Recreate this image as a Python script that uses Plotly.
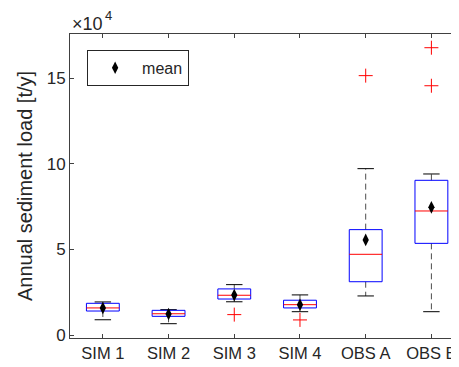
import plotly.graph_objects as go

categories = ["SIM 1", "SIM 2", "SIM 3", "SIM 4", "OBS A", "OBS B"]
# values in t/y
q1 = [14000, 10900, 21000, 15800, 31100, 53500]
median = [15800, 12400, 23200, 17700, 47100, 72400]
q3 = [18500, 14400, 26900, 20300, 61500, 90300]
lower_whisker = [8900, 6600, 19400, 13600, 22800, 13600]
upper_whisker = [19300, 14800, 29400, 23400, 97100, 94000]
means = [15800, 12300, 23300, 17700, 55500, 74500]
outlier_x = ["SIM 3", "SIM 4", "OBS A", "OBS B", "OBS B"]
outlier_y = [11900, 8800, 151400, 167700, 145500]

y_ticks = [0, 50000, 100000, 150000]
y_tick_labels = ["0", "5", "10", "15"]

box_half = 0.25
cap_half = 0.125

fig = go.Figure()
pos = {c: i + 1 for i, c in enumerate(categories)}

for i, c in enumerate(categories):
    x0 = pos[c]
    # whiskers (dashed)
    fig.add_trace(go.Scatter(
        x=[x0, x0, None, x0, x0],
        y=[q3[i], upper_whisker[i], None, q1[i], lower_whisker[i]],
        mode="lines", line=dict(color="#4d4d4d", width=1, dash="6px,4px"),
        showlegend=False, hoverinfo="skip"))
    # caps
    fig.add_trace(go.Scatter(
        x=[x0 - cap_half, x0 + cap_half, None, x0 - cap_half, x0 + cap_half],
        y=[upper_whisker[i], upper_whisker[i], None, lower_whisker[i], lower_whisker[i]],
        mode="lines", line=dict(color="#000000", width=1),
        showlegend=False, hoverinfo="skip"))
    # box
    fig.add_trace(go.Scatter(
        x=[x0 - box_half, x0 + box_half, x0 + box_half, x0 - box_half, x0 - box_half],
        y=[q1[i], q1[i], q3[i], q3[i], q1[i]],
        mode="lines", line=dict(color="#0000ff", width=1),
        showlegend=False, hoverinfo="skip"))
    # median
    fig.add_trace(go.Scatter(
        x=[x0 - box_half, x0 + box_half],
        y=[median[i], median[i]],
        mode="lines", line=dict(color="#ff0000", width=1),
        showlegend=False, hoverinfo="skip"))

fig.add_trace(go.Scatter(
    x=[pos[c] for c in outlier_x], y=outlier_y, mode="markers",
    marker=dict(symbol="cross-thin", size=10, line=dict(color="#ff0000", width=1)),
    showlegend=False))

fig.add_trace(go.Scatter(
    x=[pos[c] for c in categories], y=means, mode="markers",
    marker=dict(symbol="diamond-tall", size=9, color="#000000"),
    name="mean", showlegend=True))

fig.update_layout(
    width=451, height=359,
    margin=dict(l=62, r=0, t=26, b=29, pad=0),
    paper_bgcolor="white", plot_bgcolor="white",
    font=dict(family="Liberation Sans, Arial, sans-serif", size=17, color="#262626"),
    showlegend=True,
    legend=dict(x=0.044, y=0.948, xanchor="left", yanchor="top",
                bordercolor="#262626", borderwidth=1, bgcolor="white",
                font=dict(size=16), itemwidth=44, entrywidth=80),
    xaxis=dict(range=[0.5, 6.42], tickvals=[1, 2, 3, 4, 5, 6], ticktext=categories,
               tickfont=dict(size=16.5), ticklabeloverflow="allow",
               showline=True, linecolor="#404040", linewidth=1, mirror="ticks",
               ticks="inside", ticklen=4, tickcolor="#404040",
               showgrid=False, zeroline=False),
    yaxis=dict(range=[-1750, 175700], tickvals=y_ticks, ticktext=y_tick_labels,
               showline=True, linecolor="#404040", linewidth=1, mirror="ticks",
               ticks="inside", ticklen=4, tickcolor="#404040",
               showgrid=False, zeroline=False,
               title=dict(text="Annual sediment load [t/y]", font=dict(size=20), standoff=8)),
    annotations=[
        dict(text="×10", xref="paper", yref="paper",
             x=0, y=1, xanchor="left", yanchor="bottom", showarrow=False,
             font=dict(size=18, color="#262626"), yshift=-2),
        dict(text="4", xref="paper", yref="paper",
             x=0, y=1, xanchor="left", yanchor="bottom", showarrow=False,
             font=dict(size=13, color="#262626"), xshift=33, yshift=9),
    ],
)

fig.write_html("out.html")
